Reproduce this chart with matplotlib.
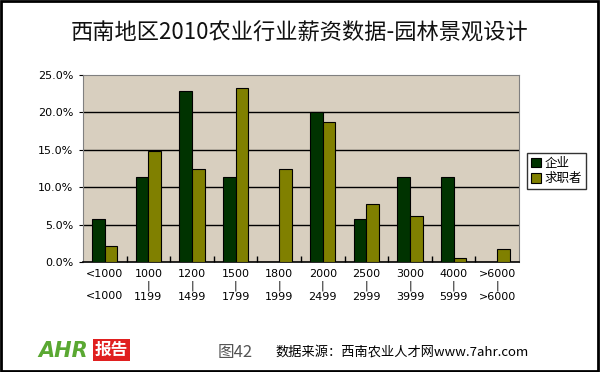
import matplotlib.pyplot as plt
import numpy as np
from matplotlib.patches import Rectangle
from matplotlib.ticker import FuncFormatter

plt.rcParams['font.family'] = ['Noto Sans CJK SC', 'DejaVu Sans']

# data
top_labels = ['<1000', '1000', '1200', '1500', '1800', '2000', '2500', '3000', '4000', '>6000']
bottom_labels = ['<1000', '1199', '1499', '1799', '1999', '2499', '2999', '3999', '5999', '>6000']
qiye = [5.7, 11.4, 22.9, 11.4, 0, 20.0, 5.7, 11.4, 11.4, 0]
qiuzhi = [2.2, 14.8, 12.4, 23.2, 12.4, 18.7, 7.8, 6.2, 0.6, 1.7]

dark = '#003300'
olive = '#808000'

fig = plt.figure(figsize=(6, 3.72), dpi=100)
fig.patch.set_facecolor('white')

ax = fig.add_axes([83/600, 110/372, 436/600, 187/372])
ax.set_facecolor('#d8cfbf')

x = np.arange(len(qiye))
w = 0.29
ax.bar(x - w/2, qiye, w, color=dark, edgecolor='black', linewidth=0.8, label='企业', zorder=3)
ax.bar(x + w/2, qiuzhi, w, color=olive, edgecolor='black', linewidth=0.8, label='求职者', zorder=3)

ax.set_xlim(-0.5, len(qiye) - 0.5)
ax.set_ylim(0, 25)
ax.set_yticks([0, 5, 10, 15, 20, 25])
ax.yaxis.set_major_formatter(FuncFormatter(lambda v, p: '%.1f%%' % v))
for yv in [5, 10, 15, 20]:
    ax.axhline(yv, color='black', linewidth=1.0, zorder=1)

labels = []
for i, (a, b) in enumerate(zip(top_labels, bottom_labels)):
    if i == 0:
        labels.append(a + '\n\n' + b)
    else:
        labels.append(a + '\n|\n' + b)
ax.set_xticks(x)
ax.set_xticklabels(labels, fontsize=8, linespacing=1.15, family='DejaVu Sans')
ax.tick_params(axis='x', length=0, pad=5)
ax.set_xticks(np.arange(0.5, len(qiye) - 0.5, 1), minor=True)
ax.tick_params(axis='x', which='minor', direction='in', length=4, width=1, color='black')
ax.tick_params(axis='y', labelsize=8, length=3, direction='out', pad=4)
for lbl in ax.get_yticklabels():
    lbl.set_family('DejaVu Sans')

for s in ['top', 'right']:
    ax.spines[s].set_color('#808080')
ax.spines['bottom'].set_linewidth(1.2)
ax.spines['left'].set_color('#808080')

leg = fig.legend(loc='upper left', bbox_to_anchor=(527/600, 1 - 153/372),
                 fontsize=9, frameon=True, fancybox=False, handlelength=0.8,
                 handleheight=0.8, handletextpad=0.3, borderpad=0.3, labelspacing=0.2,
                 borderaxespad=0)
leg.get_frame().set_edgecolor('black')
leg.get_frame().set_linewidth(1)

fig.text(0.5, 1 - 33/372, '西南地区2010农业行业薪资数据-园林景观设计', ha='center', va='center',
         fontsize=16, color='#111111')

# logo
fig.text(38/600, 1 - 351/372, 'AHR', ha='left', va='center', fontsize=15, color='#5aa832',
         fontstyle='italic', fontweight='bold', family='DejaVu Sans')
fig.text(95/600, 1 - 350/372, '报告', ha='left', va='center', fontsize=12, color='white',
         fontweight='bold', bbox=dict(boxstyle='square,pad=0.12', facecolor='#e02020', edgecolor='none'))

fig.text(218/600, 1 - 352/372, '图42', ha='left', va='center', fontsize=12, color='#555555')
fig.text(275/600, 1 - 352/372, '数据来源：西南农业人才网www.7ahr.com', ha='left', va='center',
         fontsize=9.5, color='black')

fig.patches.append(Rectangle((0.002, 0.003), 0.994, 0.994, transform=fig.transFigure,
                             fill=False, edgecolor='black', linewidth=2))

fig.savefig('out.png', dpi=100)
